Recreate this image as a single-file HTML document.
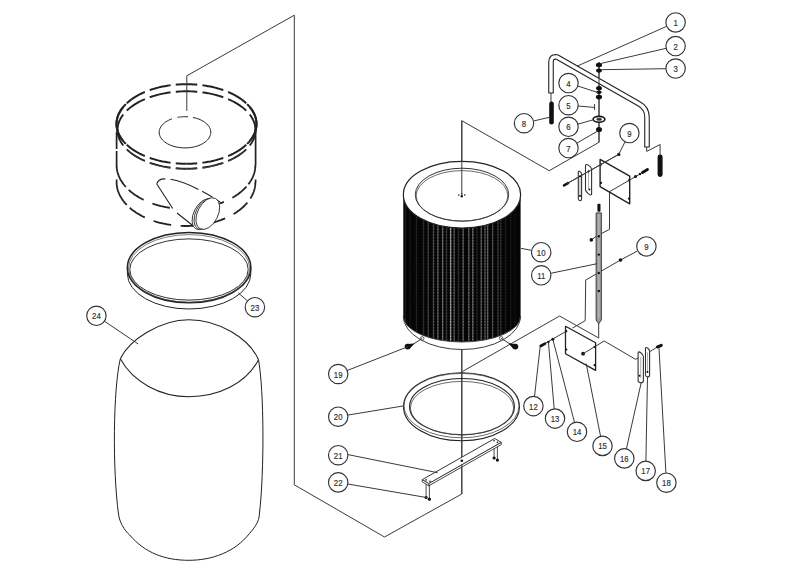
<!DOCTYPE html>
<html><head><meta charset="utf-8"><style>
html,body{margin:0;padding:0;background:#fff;overflow:hidden;}
svg{display:block;font-family:"Liberation Sans",sans-serif;}
</style></head><body>
<svg width="792" height="574" viewBox="0 0 792 574">
<polyline fill="none" stroke="#3a3a3a" stroke-width="1"  points="186.8,110.8 186.8,75.8 294.3,15.2 294.3,484.8 384.5,537 461.8,494 461.8,120.7 549.2,170.7 599,142.3 599,62"/>
<polyline fill="none" stroke="#3a3a3a" stroke-width="1"  points="462.4,371.5 559.6,316 598.7,338 598.7,322.8"/>
<polyline fill="none" stroke="#3a3a3a" stroke-width="1"  points="572.6,328 585.2,320.7 585.7,280 598,273 620.5,260 637.4,251"/>
<polyline fill="none" stroke="#3a3a3a" stroke-width="1"  points="609.5,191.8 609.5,229.4 597.6,235.4 591.3,239.9"/>
<path d="M186.50,84.20 L184.06,84.22 L181.62,84.30 L179.18,84.42 L176.76,84.59 L174.34,84.80 L171.95,85.07 L169.57,85.38 L167.21,85.74 L164.87,86.15 L162.56,86.60 L160.28,87.10 L158.03,87.64 L155.81,88.23 L153.64,88.86 L151.50,89.53 L149.41,90.25 L147.36,91.00 L145.36,91.80 L143.40,92.64 L141.50,93.51 L139.66,94.42 L137.87,95.37 L136.15,96.35 L134.48,97.37 L132.88,98.42 L131.34,99.50 L129.87,100.61 L128.47,101.74 L127.14,102.91 L125.88,104.10 L124.69,105.32 L123.58,106.55 L122.55,107.81 L121.60,109.09 L120.72,110.39 L119.93,111.70 L119.21,113.03 L118.58,114.37 L118.03,115.73 L117.56,117.09 L117.18,118.46 L116.88,119.84 L116.67,121.22 L116.54,122.61 L116.50,124.00" fill="none" stroke="#222" stroke-width="2.0" stroke-dasharray="21.5 5.2" stroke-dashoffset="10.75"/>
<path d="M186.50,84.20 L188.94,84.22 L191.38,84.30 L193.82,84.42 L196.24,84.59 L198.66,84.80 L201.05,85.07 L203.43,85.38 L205.79,85.74 L208.13,86.15 L210.44,86.60 L212.72,87.10 L214.97,87.64 L217.19,88.23 L219.36,88.86 L221.50,89.53 L223.59,90.25 L225.64,91.00 L227.64,91.80 L229.60,92.64 L231.50,93.51 L233.34,94.42 L235.13,95.37 L236.85,96.35 L238.52,97.37 L240.12,98.42 L241.66,99.50 L243.13,100.61 L244.53,101.74 L245.86,102.91 L247.12,104.10 L248.31,105.32 L249.42,106.55 L250.45,107.81 L251.40,109.09 L252.28,110.39 L253.07,111.70 L253.79,113.03 L254.42,114.37 L254.97,115.73 L255.44,117.09 L255.82,118.46 L256.12,119.84 L256.33,121.22 L256.46,122.61 L256.50,124.00" fill="none" stroke="#222" stroke-width="2.0" stroke-dasharray="21.5 5.2" stroke-dashoffset="10.75"/>
<path d="M186.50,163.80 L184.06,163.78 L181.62,163.70 L179.18,163.58 L176.76,163.41 L174.34,163.20 L171.95,162.93 L169.57,162.62 L167.21,162.26 L164.87,161.85 L162.56,161.40 L160.28,160.90 L158.03,160.36 L155.81,159.77 L153.64,159.14 L151.50,158.47 L149.41,157.75 L147.36,157.00 L145.36,156.20 L143.40,155.36 L141.50,154.49 L139.66,153.58 L137.87,152.63 L136.15,151.65 L134.48,150.63 L132.88,149.58 L131.34,148.50 L129.87,147.39 L128.47,146.26 L127.14,145.09 L125.88,143.90 L124.69,142.68 L123.58,141.45 L122.55,140.19 L121.60,138.91 L120.72,137.61 L119.93,136.30 L119.21,134.97 L118.58,133.63 L118.03,132.27 L117.56,130.91 L117.18,129.54 L116.88,128.16 L116.67,126.78 L116.54,125.39 L116.50,124.00" fill="none" stroke="#222" stroke-width="2.0" stroke-dasharray="21.5 5.2" stroke-dashoffset="10.75"/>
<path d="M186.50,163.80 L188.94,163.78 L191.38,163.70 L193.82,163.58 L196.24,163.41 L198.66,163.20 L201.05,162.93 L203.43,162.62 L205.79,162.26 L208.13,161.85 L210.44,161.40 L212.72,160.90 L214.97,160.36 L217.19,159.77 L219.36,159.14 L221.50,158.47 L223.59,157.75 L225.64,157.00 L227.64,156.20 L229.60,155.36 L231.50,154.49 L233.34,153.58 L235.13,152.63 L236.85,151.65 L238.52,150.63 L240.12,149.58 L241.66,148.50 L243.13,147.39 L244.53,146.26 L245.86,145.09 L247.12,143.90 L248.31,142.68 L249.42,141.45 L250.45,140.19 L251.40,138.91 L252.28,137.61 L253.07,136.30 L253.79,134.97 L254.42,133.63 L254.97,132.27 L255.44,130.91 L255.82,129.54 L256.12,128.16 L256.33,126.78 L256.46,125.39 L256.50,124.00" fill="none" stroke="#222" stroke-width="2.0" stroke-dasharray="21.5 5.2" stroke-dashoffset="10.75"/>
<path d="M247.12,104.10 L248.02,105.01 L248.87,105.93 L249.68,106.87 L250.45,107.81 L251.17,108.77 L251.85,109.74 L252.48,110.71 L253.07,111.70 L253.62,112.70 L254.11,113.70 L254.57,114.71 L254.97,115.73 L255.33,116.75 L255.64,117.77 L255.90,118.81 L256.12,119.84 L256.28,120.88 L256.40,121.92 L256.48,122.96 L256.50,124.00 L256.48,125.04 L256.40,126.08 L256.28,127.12 L256.12,128.16 L255.90,129.19 L255.64,130.23 L255.33,131.25 L254.97,132.27 L254.57,133.29 L254.11,134.30 L253.62,135.30 L253.07,136.30 L252.48,137.29 L251.85,138.26 L251.17,139.23 L250.45,140.19 L249.68,141.13 L248.87,142.07 L248.02,142.99 L247.12,143.90" fill="none" stroke="#222" stroke-width="2.0" />
<path d="M125.88,143.90 L124.98,142.99 L124.13,142.07 L123.32,141.13 L122.55,140.19 L121.83,139.23 L121.15,138.26 L120.52,137.29 L119.93,136.30 L119.38,135.30 L118.89,134.30 L118.43,133.29 L118.03,132.27 L117.67,131.25 L117.36,130.23 L117.10,129.19 L116.88,128.16 L116.72,127.12 L116.60,126.08 L116.52,125.04 L116.50,124.00 L116.52,122.96 L116.60,121.92 L116.72,120.88 L116.88,119.84 L117.10,118.81 L117.36,117.77 L117.67,116.75 L118.03,115.73 L118.43,114.71 L118.89,113.70 L119.38,112.70 L119.93,111.70 L120.52,110.71 L121.15,109.74 L121.83,108.77 L122.55,107.81 L123.32,106.87 L124.13,105.93 L124.98,105.01 L125.88,104.10" fill="none" stroke="#222" stroke-width="2.0" />
<path d="M186.50,91.30 L184.09,91.32 L181.69,91.39 L179.29,91.51 L176.90,91.68 L174.52,91.89 L172.15,92.15 L169.81,92.45 L167.48,92.80 L165.18,93.19 L162.90,93.63 L160.65,94.12 L158.44,94.65 L156.25,95.22 L154.11,95.83 L152.00,96.48 L149.94,97.18 L147.92,97.92 L145.94,98.69 L144.02,99.50 L142.15,100.35 L140.33,101.24 L138.57,102.16 L136.87,103.12 L135.22,104.10 L133.64,105.12 L132.13,106.17 L130.68,107.25 L129.30,108.36 L127.98,109.49 L126.74,110.65 L125.58,111.83 L124.48,113.04 L123.47,114.26 L122.52,115.50 L121.66,116.76 L120.88,118.04 L120.17,119.33 L119.55,120.64 L119.01,121.95 L118.55,123.28 L118.17,124.61 L117.88,125.95 L117.67,127.30 L117.54,128.65 L117.50,130.00" fill="none" stroke="#222" stroke-width="1.9" stroke-dasharray="21.5 5.2" stroke-dashoffset="10.75"/>
<path d="M186.50,91.30 L188.91,91.32 L191.31,91.39 L193.71,91.51 L196.10,91.68 L198.48,91.89 L200.85,92.15 L203.19,92.45 L205.52,92.80 L207.82,93.19 L210.10,93.63 L212.35,94.12 L214.56,94.65 L216.75,95.22 L218.89,95.83 L221.00,96.48 L223.06,97.18 L225.08,97.92 L227.06,98.69 L228.98,99.50 L230.85,100.35 L232.67,101.24 L234.43,102.16 L236.13,103.12 L237.78,104.10 L239.36,105.12 L240.87,106.17 L242.32,107.25 L243.70,108.36 L245.02,109.49 L246.26,110.65 L247.42,111.83 L248.52,113.04 L249.53,114.26 L250.48,115.50 L251.34,116.76 L252.12,118.04 L252.83,119.33 L253.45,120.64 L253.99,121.95 L254.45,123.28 L254.83,124.61 L255.12,125.95 L255.33,127.30 L255.46,128.65 L255.50,130.00" fill="none" stroke="#222" stroke-width="1.9" stroke-dasharray="21.5 5.2" stroke-dashoffset="10.75"/>
<path d="M186.50,168.70 L184.09,168.68 L181.69,168.61 L179.29,168.49 L176.90,168.32 L174.52,168.11 L172.15,167.85 L169.81,167.55 L167.48,167.20 L165.18,166.81 L162.90,166.37 L160.65,165.88 L158.44,165.35 L156.25,164.78 L154.11,164.17 L152.00,163.52 L149.94,162.82 L147.92,162.08 L145.94,161.31 L144.02,160.50 L142.15,159.65 L140.33,158.76 L138.57,157.84 L136.87,156.88 L135.22,155.90 L133.64,154.88 L132.13,153.83 L130.68,152.75 L129.30,151.64 L127.98,150.51 L126.74,149.35 L125.58,148.17 L124.48,146.96 L123.47,145.74 L122.52,144.50 L121.66,143.24 L120.88,141.96 L120.17,140.67 L119.55,139.36 L119.01,138.05 L118.55,136.72 L118.17,135.39 L117.88,134.05 L117.67,132.70 L117.54,131.35 L117.50,130.00" fill="none" stroke="#222" stroke-width="1.9" stroke-dasharray="21.5 5.2" stroke-dashoffset="10.75"/>
<path d="M186.50,168.70 L188.91,168.68 L191.31,168.61 L193.71,168.49 L196.10,168.32 L198.48,168.11 L200.85,167.85 L203.19,167.55 L205.52,167.20 L207.82,166.81 L210.10,166.37 L212.35,165.88 L214.56,165.35 L216.75,164.78 L218.89,164.17 L221.00,163.52 L223.06,162.82 L225.08,162.08 L227.06,161.31 L228.98,160.50 L230.85,159.65 L232.67,158.76 L234.43,157.84 L236.13,156.88 L237.78,155.90 L239.36,154.88 L240.87,153.83 L242.32,152.75 L243.70,151.64 L245.02,150.51 L246.26,149.35 L247.42,148.17 L248.52,146.96 L249.53,145.74 L250.48,144.50 L251.34,143.24 L252.12,141.96 L252.83,140.67 L253.45,139.36 L253.99,138.05 L254.45,136.72 L254.83,135.39 L255.12,134.05 L255.33,132.70 L255.46,131.35 L255.50,130.00" fill="none" stroke="#222" stroke-width="1.9" stroke-dasharray="21.5 5.2" stroke-dashoffset="10.75"/>
<path d="M186.50,169.10 L188.89,169.08 L191.28,169.01 L193.66,168.89 L196.03,168.73 L198.39,168.53 L200.74,168.27 L203.07,167.98 L205.38,167.64 L207.67,167.25 L209.93,166.82 L212.16,166.35 L214.36,165.83 L216.53,165.27 L218.66,164.68 L220.75,164.04 L222.80,163.36 L224.80,162.64 L226.76,161.88 L228.67,161.09 L230.53,160.26 L232.34,159.39 L234.08,158.49 L235.77,157.56 L237.41,156.59 L238.97,155.60 L240.48,154.57 L241.92,153.52 L243.29,152.44 L244.59,151.33 L245.82,150.20" fill="none" stroke="#444" stroke-width="0.8" stroke-dasharray="21.5 5.2" stroke-dashoffset="10.75"/>
<path d="M186.50,169.10 L184.11,169.08 L181.72,169.01 L179.34,168.89 L176.97,168.73 L174.61,168.53 L172.26,168.27 L169.93,167.98 L167.62,167.64 L165.33,167.25 L163.07,166.82 L160.84,166.35 L158.64,165.83 L156.47,165.27 L154.34,164.68 L152.25,164.04 L150.20,163.36 L148.20,162.64 L146.24,161.88 L144.33,161.09 L142.47,160.26 L140.66,159.39 L138.92,158.49 L137.23,157.56 L135.59,156.59 L134.03,155.60 L132.52,154.57 L131.08,153.52 L129.71,152.44 L128.41,151.33 L127.18,150.20" fill="none" stroke="#444" stroke-width="0.8" stroke-dasharray="21.5 5.2" stroke-dashoffset="10.75"/>
<path d="M116.6,132 L116.6,149 M116.6,151 L116.6,165" fill="none" stroke="#222" stroke-width="1.7" />
<path d="M116.6,179.5 L116.6,182" fill="none" stroke="#222" stroke-width="1.7" />
<path d="M255.6,126 L255.6,165" fill="none" stroke="#222" stroke-width="1.7" />
<path d="M255.6,179.5 L255.6,182" fill="none" stroke="#222" stroke-width="1.7" />
<path d="M116.60,165.00 L116.62,166.15 L116.70,167.30 L116.81,168.45 L116.98,169.60 L117.19,170.74 L117.45,171.88 L117.76,173.02 L118.12,174.15 L118.52,175.27 L118.96,176.39 L119.46,177.50 L120.00,178.60 L120.58,179.69 L121.21,180.77 L121.88,181.84 L122.60,182.90 L123.36,183.94 L124.16,184.98 L125.01,185.99 L125.90,187.00" fill="none" stroke="#222" stroke-width="1.8" />
<path d="M125.90,187.00 L126.86,188.02 L127.86,189.03 L128.91,190.02 L130.00,190.99 L131.13,191.94 L132.30,192.87 L133.50,193.78 L134.75,194.67 L136.04,195.54 L137.36,196.38 L138.71,197.21 L140.10,198.00 L141.53,198.78 L142.99,199.53 L144.48,200.26 L146.00,200.95 L147.54,201.63 L149.12,202.27 L150.72,202.89 L152.35,203.48 L154.01,204.05 L155.69,204.58 L157.39,205.09 L159.11,205.56 L160.85,206.01 L162.61,206.42 L164.38,206.81 L166.17,207.17 L167.98,207.49 L169.80,207.78 L171.63,208.05 L173.47,208.28 L175.32,208.48 L177.18,208.64 L179.05,208.78 L180.92,208.88 L182.79,208.95 L184.67,208.99 L186.55,209.00 L188.42,208.97 L190.30,208.92 L192.17,208.83 L194.04,208.70 L195.90,208.55 L197.75,208.36 L199.60,208.15 L201.43,207.90 L203.26,207.62 L205.07,207.31 L206.87,206.96 L208.65,206.59 L210.42,206.19 L212.17,205.75 L213.90,205.29 L215.60,204.80 L217.29,204.27 L218.96,203.72 L220.60,203.14 L222.21,202.54 L223.80,201.90 L225.36,201.24 L226.89,200.55 L228.39,199.84 L229.86,199.10 L231.30,198.33 L232.71,197.54 L234.08,196.73 L235.41,195.89 L236.71,195.04 L237.98,194.16 L239.20,193.25 L240.39,192.33 L241.53,191.39 L242.64,190.43 L243.70,189.45 L244.73,188.45 L245.70,187.43 L246.64,186.40 L247.53,185.35 L248.38,184.29" fill="none" stroke="#222" stroke-width="1.8" stroke-dasharray="0 4 18 5.5"/>
<path d="M248.38,184.29 L249.05,183.39 L249.69,182.47 L250.30,181.55 L250.88,180.62 L251.42,179.69 L251.93,178.74 L252.40,177.79 L252.84,176.83 L253.25,175.87 L253.62,174.90 L253.96,173.92 L254.26,172.94 L254.53,171.96 L254.76,170.97 L254.95,169.98 L255.11,168.99 L255.24,167.99 L255.33,167.00 L255.38,166.00 L255.40,165.00" fill="none" stroke="#222" stroke-width="1.8" />
<path d="M116.60,182.00 L116.63,183.21 L116.70,184.42 L116.84,185.62 L117.02,186.83 L117.25,188.03 L117.54,189.22 L117.88,190.41 L118.27,191.60 L118.71,192.77 L119.21,193.94 L119.75,195.10 L120.34,196.25 L120.98,197.39 L121.68,198.52 L122.42,199.63 L123.21,200.73 L124.04,201.82 L124.92,202.89 L125.85,203.95 L126.83,204.99" fill="none" stroke="#222" stroke-width="1.8" />
<path d="M126.83,204.99 L127.85,206.02 L128.92,207.02 L130.03,208.01 L131.18,208.98 L132.38,209.93 L133.61,210.86 L134.89,211.76 L136.20,212.65 L137.56,213.51 L138.95,214.34 L140.37,215.15 L141.83,215.94 L143.33,216.70 L144.85,217.43 L146.41,218.14 L148.00,218.82 L149.62,219.47 L151.26,220.09 L152.93,220.68 L154.63,221.25 L156.35,221.78 L158.09,222.29 L159.85,222.76 L161.64,223.20 L163.44,223.61 L165.26,223.99 L167.10,224.34 L168.95,224.65 L170.81,224.93 L172.68,225.18 L174.57,225.40 L176.46,225.58 L178.36,225.73 L180.27,225.85 L182.18,225.93 L184.09,225.98 L186.01,226.00 L187.92,225.98 L189.84,225.93 L191.75,225.85 L193.65,225.73 L195.55,225.58 L197.45,225.40 L199.33,225.18 L201.21,224.93 L203.07,224.65 L204.92,224.33 L206.75,223.99 L208.57,223.61 L210.38,223.20 L212.16,222.75 L213.92,222.28 L215.67,221.78 L217.39,221.24 L219.08,220.68 L220.75,220.09 L222.40,219.46 L224.01,218.81 L225.60,218.13 L227.16,217.43 L228.69,216.69 L230.18,215.93 L231.64,215.15 L233.06,214.34 L234.45,213.50 L235.81,212.64 L237.12,211.76 L238.40,210.85 L239.63,209.92 L240.83,208.98 L241.98,208.01 L243.09,207.02 L244.16,206.01 L245.18,204.98 L246.16,203.94 L247.09,202.88 L247.98,201.80 L248.81,200.71 L249.60,199.60 L250.35,198.48" fill="none" stroke="#222" stroke-width="1.8" stroke-dasharray="0 4 18 5.5"/>
<path d="M250.35,198.48 L250.83,197.70 L251.30,196.90 L251.74,196.11 L252.15,195.30 L252.54,194.50 L252.91,193.68 L253.25,192.87 L253.57,192.05 L253.86,191.22 L254.12,190.40 L254.37,189.56 L254.58,188.73 L254.77,187.90 L254.94,187.06 L255.08,186.22 L255.20,185.38 L255.28,184.53 L255.35,183.69 L255.39,182.84 L255.40,182.00" fill="none" stroke="#222" stroke-width="1.8" />
<path d="M192.97,117.46 L194.85,117.88 L196.68,118.39 L198.43,118.98 L200.10,119.65 L201.67,120.40 L203.15,121.21 L204.52,122.10 L205.77,123.05 L206.90,124.05 L207.89,125.10 L208.75,126.20 L209.46,127.33 L210.02,128.50 L210.43,129.68 L210.69,130.88 L210.80,132.09 L210.75,133.31 L210.54,134.51 L210.18,135.70 L209.67,136.88 L209.00,138.02 L208.20,139.13 L207.25,140.20 L206.17,141.22 L204.96,142.19 L203.63,143.09 L202.19,143.93 L200.64,144.71 L199.00,145.40 L197.28,146.02 L195.48,146.56 L193.62,147.00 L191.70,147.36 L189.75,147.63 L187.76,147.81 L185.76,147.89 L183.76,147.88 L181.76,147.78 L179.79,147.58 L177.84,147.29 L175.94,146.91 L174.09,146.44 L172.31,145.88 L170.60,145.24 L168.98,144.53 L167.46,143.74 L166.04,142.88 L164.74,141.96 L163.56,140.98 L162.51,139.95 L161.60,138.87 L160.83,137.75 L160.20,136.60 L159.72,135.42 L159.40,134.23 L159.23,133.02 L159.21,131.81 L159.35,130.60 L159.65,129.40 L160.10,128.22 L160.70,127.06 L161.44,125.94 L162.33,124.85 L163.36,123.81 L164.51,122.82 L165.79,121.88 L167.19,121.01 L168.69,120.21 L170.29,119.48 L171.98,118.83" fill="none" stroke="#222" stroke-width="1" />
<path d="M177.46,117.38 L178.48,117.21 L179.52,117.06 L180.57,116.93 L181.62,116.83 L182.68,116.76 L183.75,116.72 L184.82,116.70 L185.88,116.71 L186.95,116.74 L188.01,116.81" fill="none" stroke="#222" stroke-width="1" />
<path d="M156.8,184 Q158,178 167,179 C180,179.5 200,189 220,202 L200,230 L193,225.5 Z" fill="#fff"/>
<path d="M156.8,184 Q158,178 167,179 C180,179.5 200,189 220,202" fill="none" stroke="#222" stroke-width="1.1" stroke-dasharray="11 5 30 4 12 4 30"/>
<path d="M156.8,184 L172.7,208.5 M177,213 L194,226.5" fill="none" stroke="#222" stroke-width="1.1" />
<ellipse cx="203.6" cy="214.2" rx="16.6" ry="9.8" transform="rotate(117 203.6 214.2)" fill="#fff" stroke="#222" stroke-width="0.8"/>
<ellipse cx="205.7" cy="213.9" rx="16.8" ry="10" transform="rotate(117 205.7 213.9)" fill="#fff" stroke="#222" stroke-width="0.8"/>
<ellipse cx="207.8" cy="213.6" rx="17" ry="10.2" transform="rotate(117 207.8 213.6)" fill="#fff" stroke="#222" stroke-width="0.8"/>
<path d="M127.4,267.6 L127.4,273.8 A61.7,35.2 0 0 0 250.8,273.8 L250.8,267.6" fill="none" stroke="#222" stroke-width="1" />
<ellipse cx="189.1" cy="267.6" rx="61.7" ry="35.2" fill="#fff" stroke="#222" stroke-width="1.5"/>
<ellipse cx="189.1" cy="268.4" rx="60.6" ry="33.8" fill="none" stroke="#444" stroke-width="0.7"/>
<ellipse cx="189" cy="269.5" rx="59.2" ry="30.6" fill="#fff" stroke="#333" stroke-width="1"/>
<path d="M120.3,358.8 C129,340 160,319.7 188.8,319.7 C218,319.7 249,338 258.5,359.7" fill="none" stroke="#222" stroke-width="1.05" />
<path d="M120.3,358.8 C133,382 160,396.7 188.8,396.7 C218,396.7 246,384 258.5,359.7" fill="none" stroke="#222" stroke-width="1.05" />
<path d="M120.3,358.8 C113,390 112.5,470 118.5,514 C119.5,522 124,530 129.7,535 C145,553 165,560.3 188.8,560.3 C212,560.3 235,552 249.4,533.6 C255,527 259,522 259.4,514 C264.5,470 264,390 258.5,359.7" fill="none" stroke="#222" stroke-width="1" />
<defs><clipPath id="fb"><path d="M403.3,195 L403.3,316 A58.650000000000006,26 0 0 0 520.6,316 L520.6,195 Z"/></clipPath></defs>
<path d="M403.3,195 L403.3,316 A58.650000000000006,26 0 0 0 520.6,316 L520.6,195 Z" fill="#050505"/>
<g clip-path="url(#fb)">
<line x1="405.5" y1="150" x2="405.5" y2="345" stroke="rgb(21,21,21)" stroke-width="1.3"/>
<line x1="405.5" y1="150" x2="405.5" y2="345" stroke="rgb(31,31,31)" stroke-width="1.3" stroke-dasharray="1.6 1.3"/>
<line x1="410" y1="150" x2="410" y2="345" stroke="rgb(15,15,15)" stroke-width="1.3"/>
<line x1="410" y1="150" x2="410" y2="345" stroke="rgb(22,22,22)" stroke-width="1.3" stroke-dasharray="1.6 1.3"/>
<line x1="416.5" y1="150" x2="416.5" y2="345" stroke="rgb(25,25,25)" stroke-width="1.3"/>
<line x1="416.5" y1="150" x2="416.5" y2="345" stroke="rgb(37,37,37)" stroke-width="1.3" stroke-dasharray="1.6 1.3"/>
<line x1="423.5" y1="150" x2="423.5" y2="345" stroke="rgb(34,34,34)" stroke-width="1.3"/>
<line x1="423.5" y1="150" x2="423.5" y2="345" stroke="rgb(50,50,50)" stroke-width="1.3" stroke-dasharray="1.6 1.3"/>
<line x1="428.3" y1="150" x2="428.3" y2="345" stroke="rgb(46,46,46)" stroke-width="1.3"/>
<line x1="428.3" y1="150" x2="428.3" y2="345" stroke="rgb(68,68,68)" stroke-width="1.3" stroke-dasharray="1.6 1.3"/>
<line x1="433.5" y1="150" x2="433.5" y2="345" stroke="rgb(55,55,55)" stroke-width="1.3"/>
<line x1="433.5" y1="150" x2="433.5" y2="345" stroke="rgb(81,81,81)" stroke-width="1.3" stroke-dasharray="1.6 1.3"/>
<line x1="437.9" y1="150" x2="437.9" y2="345" stroke="rgb(68,68,68)" stroke-width="1.3"/>
<line x1="437.9" y1="150" x2="437.9" y2="345" stroke="rgb(100,100,100)" stroke-width="1.3" stroke-dasharray="1.6 1.3"/>
<line x1="442.6" y1="150" x2="442.6" y2="345" stroke="rgb(80,80,80)" stroke-width="1.3"/>
<line x1="442.6" y1="150" x2="442.6" y2="345" stroke="rgb(118,118,118)" stroke-width="1.3" stroke-dasharray="1.6 1.3"/>
<line x1="446.5" y1="150" x2="446.5" y2="345" stroke="rgb(42,42,42)" stroke-width="1.3"/>
<line x1="446.5" y1="150" x2="446.5" y2="345" stroke="rgb(62,62,62)" stroke-width="1.3" stroke-dasharray="1.6 1.3"/>
<line x1="450.6" y1="150" x2="450.6" y2="345" stroke="rgb(114,114,114)" stroke-width="1.3"/>
<line x1="450.6" y1="150" x2="450.6" y2="345" stroke="rgb(168,168,168)" stroke-width="1.3" stroke-dasharray="1.6 1.3"/>
<line x1="454.2" y1="150" x2="454.2" y2="345" stroke="rgb(63,63,63)" stroke-width="1.3"/>
<line x1="454.2" y1="150" x2="454.2" y2="345" stroke="rgb(93,93,93)" stroke-width="1.3" stroke-dasharray="1.6 1.3"/>
<line x1="458.5" y1="150" x2="458.5" y2="345" stroke="rgb(34,34,34)" stroke-width="1.3"/>
<line x1="458.5" y1="150" x2="458.5" y2="345" stroke="rgb(50,50,50)" stroke-width="1.3" stroke-dasharray="1.6 1.3"/>
<line x1="463.2" y1="150" x2="463.2" y2="345" stroke="rgb(68,68,68)" stroke-width="1.3"/>
<line x1="463.2" y1="150" x2="463.2" y2="345" stroke="rgb(100,100,100)" stroke-width="1.3" stroke-dasharray="1.6 1.3"/>
<line x1="468.8" y1="150" x2="468.8" y2="345" stroke="rgb(68,68,68)" stroke-width="1.3"/>
<line x1="468.8" y1="150" x2="468.8" y2="345" stroke="rgb(100,100,100)" stroke-width="1.3" stroke-dasharray="1.6 1.3"/>
<line x1="472.8" y1="150" x2="472.8" y2="345" stroke="rgb(76,76,76)" stroke-width="1.3"/>
<line x1="472.8" y1="150" x2="472.8" y2="345" stroke="rgb(112,112,112)" stroke-width="1.3" stroke-dasharray="1.6 1.3"/>
<line x1="477" y1="150" x2="477" y2="345" stroke="rgb(25,25,25)" stroke-width="1.3"/>
<line x1="477" y1="150" x2="477" y2="345" stroke="rgb(37,37,37)" stroke-width="1.3" stroke-dasharray="1.6 1.3"/>
<line x1="481.3" y1="150" x2="481.3" y2="345" stroke="rgb(68,68,68)" stroke-width="1.3"/>
<line x1="481.3" y1="150" x2="481.3" y2="345" stroke="rgb(100,100,100)" stroke-width="1.3" stroke-dasharray="1.6 1.3"/>
<line x1="485" y1="150" x2="485" y2="345" stroke="rgb(59,59,59)" stroke-width="1.3"/>
<line x1="485" y1="150" x2="485" y2="345" stroke="rgb(87,87,87)" stroke-width="1.3" stroke-dasharray="1.6 1.3"/>
<line x1="487.6" y1="150" x2="487.6" y2="345" stroke="rgb(72,72,72)" stroke-width="1.3"/>
<line x1="487.6" y1="150" x2="487.6" y2="345" stroke="rgb(106,106,106)" stroke-width="1.3" stroke-dasharray="1.6 1.3"/>
<line x1="492.6" y1="150" x2="492.6" y2="345" stroke="rgb(59,59,59)" stroke-width="1.3"/>
<line x1="492.6" y1="150" x2="492.6" y2="345" stroke="rgb(87,87,87)" stroke-width="1.3" stroke-dasharray="1.6 1.3"/>
<line x1="498" y1="150" x2="498" y2="345" stroke="rgb(42,42,42)" stroke-width="1.3"/>
<line x1="498" y1="150" x2="498" y2="345" stroke="rgb(62,62,62)" stroke-width="1.3" stroke-dasharray="1.6 1.3"/>
<line x1="500.8" y1="150" x2="500.8" y2="345" stroke="rgb(34,34,34)" stroke-width="1.3"/>
<line x1="500.8" y1="150" x2="500.8" y2="345" stroke="rgb(50,50,50)" stroke-width="1.3" stroke-dasharray="1.6 1.3"/>
<line x1="505.5" y1="150" x2="505.5" y2="345" stroke="rgb(21,21,21)" stroke-width="1.3"/>
<line x1="505.5" y1="150" x2="505.5" y2="345" stroke="rgb(31,31,31)" stroke-width="1.3" stroke-dasharray="1.6 1.3"/>
<line x1="510.8" y1="150" x2="510.8" y2="345" stroke="rgb(17,17,17)" stroke-width="1.3"/>
<line x1="510.8" y1="150" x2="510.8" y2="345" stroke="rgb(25,25,25)" stroke-width="1.3" stroke-dasharray="1.6 1.3"/>
<line x1="515" y1="150" x2="515" y2="345" stroke="rgb(11,11,11)" stroke-width="1.3"/>
<line x1="515" y1="150" x2="515" y2="345" stroke="rgb(17,17,17)" stroke-width="1.3" stroke-dasharray="1.6 1.3"/>
</g>
<path d="M403.3,316 A58.650000000000006,33.5 0 0 0 520.6,316 A58.650000000000006,26 0 0 1 403.3,316 Z" fill="#fff" stroke="#3a3a3a" stroke-width="1"/>
<ellipse cx="462" cy="194.7" rx="58.650000000000006" ry="33.4" fill="#fff" stroke="#222" stroke-width="1.2"/>
<ellipse cx="462" cy="194.7" rx="46.7" ry="26.5" fill="#fff" stroke="#333" stroke-width="1"/>
<ellipse cx="462" cy="195.8" rx="45.8" ry="25.2" fill="none" stroke="#444" stroke-width="0.8"/>
<circle cx="458.8" cy="195.0" r="0.8" fill="#111"/>
<circle cx="464.8" cy="195.0" r="0.8" fill="#111"/>
<circle cx="461.8" cy="196.3" r="1.2" fill="#111"/>
<circle cx="461.8" cy="193.7" r="0.7" fill="#111"/>
<line x1="461.8" y1="120.7" x2="461.8" y2="195.5" stroke="#3a3a3a" stroke-width="1" />
<circle cx="422.2" cy="338.4" r="1.8" fill="#fff" stroke="#333" stroke-width="0.8"/>
<circle cx="501.2" cy="338.4" r="1.8" fill="#fff" stroke="#333" stroke-width="0.8"/>
<line x1="422.2" y1="338.4" x2="408.9" y2="347" stroke="#3a3a3a" stroke-width="1" />
<line x1="501.2" y1="338.4" x2="514.9" y2="347" stroke="#3a3a3a" stroke-width="1" />
<circle cx="407.6" cy="346.6" r="2.9" fill="#111"/>
<polygon points="406.5,344 414.5,343.6 409.5,349" fill="#111"/>
<circle cx="515.4" cy="346.6" r="2.9" fill="#111"/>
<polygon points="516.5,344 508.5,343.6 513.5,349" fill="#111"/>
<line x1="461.8" y1="349.7" x2="461.8" y2="461" stroke="#3a3a3a" stroke-width="1" />
<ellipse cx="461.5" cy="406.8" rx="58" ry="34" fill="none" stroke="#222" stroke-width="1.1"/>
<ellipse cx="461.5" cy="405.6" rx="57.6" ry="32.2" fill="none" stroke="#444" stroke-width="0.8"/>
<ellipse cx="462" cy="406.7" rx="52.4" ry="28.2" fill="none" stroke="#222" stroke-width="1.1"/>
<ellipse cx="462" cy="408" rx="51.6" ry="26.6" fill="none" stroke="#444" stroke-width="0.8"/>
<line x1="426.1" y1="481" x2="426.1" y2="497.5" stroke="#3a3a3a" stroke-width="0.9" />
<line x1="429.4" y1="484" x2="429.4" y2="499.2" stroke="#3a3a3a" stroke-width="0.9" />
<line x1="494.1" y1="441" x2="494.1" y2="458" stroke="#3a3a3a" stroke-width="0.9" />
<line x1="497.4" y1="443" x2="497.4" y2="460.1" stroke="#3a3a3a" stroke-width="0.9" />
<polygon fill="#fff" stroke="#333" stroke-width="1" stroke-linejoin="round"  points="422.2,479.7 494.7,438.5 501.3,442.4 428.8,483.6"/>
<polygon fill="#fff" stroke="#333" stroke-width="0.9" stroke-linejoin="round"  points="428.8,483.6 501.3,442.4 501.3,444.6 428.8,485.8"/>
<polygon fill="#fff" stroke="#333" stroke-width="0.9" stroke-linejoin="round"  points="422.2,479.7 428.8,483.6 428.8,485.8 422.2,481.9"/>
<circle cx="426.1" cy="479.9" r="0.8" fill="#111"/>
<circle cx="430" cy="481.2" r="0.8" fill="#111"/>
<circle cx="494.1" cy="440.7" r="0.8" fill="#111"/>
<circle cx="497.4" cy="442.4" r="0.8" fill="#111"/>
<circle cx="461.8" cy="460.7" r="1.3" fill="#111"/>
<line x1="461.8" y1="464.5" x2="461.8" y2="494" stroke="#3a3a3a" stroke-width="1" />
<circle cx="426.1" cy="497.5" r="1.6" fill="#111"/>
<circle cx="429.4" cy="499.2" r="1.6" fill="#111"/>
<circle cx="494.1" cy="458" r="1.6" fill="#111"/>
<circle cx="497.4" cy="460.1" r="1.6" fill="#111"/>
<path d="M551,93 L551,62 Q551,56 557,57 L638.5,103.5 Q647,108 647,117 L647,147" fill="none" stroke="#222" stroke-width="5.6" stroke-linejoin="round"/>
<path d="M551,93 L551,62 Q551,56 557,57 L638.5,103.5 Q647,108 647,117 L647,147" fill="none" stroke="#fff" stroke-width="3.4" stroke-linejoin="round"/>
<line x1="551" y1="93" x2="551" y2="102" stroke="#3a3a3a" stroke-width="1" />
<line x1="548.4" y1="93" x2="553.6" y2="93" stroke="#222" stroke-width="1" />
<line x1="644.3" y1="147" x2="649.7" y2="147" stroke="#222" stroke-width="1" />
<line x1="599" y1="62" x2="599" y2="142.3" stroke="#3a3a3a" stroke-width="1" />
<rect x="549.2" y="101.5" width="4.6" height="23" rx="2.3" fill="#111"/>
<polyline fill="none" stroke="#3a3a3a" stroke-width="1"  points="646.7,147 646.7,151.4 660.1,144.5 660.1,155"/>
<rect x="657.6" y="154.5" width="5" height="22.5" rx="2.4" fill="#111"/>
<ellipse cx="599" cy="65" rx="3.1" ry="2.2" fill="#111"/>
<ellipse cx="599" cy="70.6" rx="2.9" ry="2.1" fill="#111"/>
<ellipse cx="599" cy="88.2" rx="2.9" ry="2.1" fill="#111"/>
<ellipse cx="599" cy="92.2" rx="2.7" ry="1.8" fill="#111"/>
<ellipse cx="599" cy="97.1" rx="3.1" ry="2.3" fill="#111"/>
<line x1="594.6" y1="104" x2="594.6" y2="110" stroke="#3a3a3a" stroke-width="1" />
<ellipse cx="599" cy="119.3" rx="5.9" ry="2.9" fill="#fff" stroke="#111" stroke-width="1.6"/>
<ellipse cx="599.1" cy="119.4" rx="2.8" ry="1.4" fill="#333"/>
<ellipse cx="599" cy="129.6" rx="3" ry="2.7" fill="#111"/>
<polygon fill="none" stroke="#222" stroke-width="1.4" stroke-linejoin="round"  points="600.1,159.4 629.7,176.1 629.7,203.8 600.1,186.6"/>
<circle cx="601" cy="164.6" r="1.1" fill="#111"/>
<circle cx="601" cy="182.9" r="1.1" fill="#111"/>
<circle cx="628.9" cy="180.3" r="1.1" fill="#111"/>
<circle cx="628.9" cy="198.6" r="1.1" fill="#111"/>
<line x1="563.7" y1="185.5" x2="618.7" y2="154.4" stroke="#3a3a3a" stroke-width="1" />
<circle cx="618.7" cy="154.4" r="1.7" fill="#111"/>
<line x1="609.3" y1="191.8" x2="629.2" y2="180.3" stroke="#3a3a3a" stroke-width="1" />
<line x1="629.2" y1="180.3" x2="641.7" y2="173" stroke="#3a3a3a" stroke-width="1" />
<circle cx="635.5" cy="176.6" r="1.5" fill="#111"/>
<circle cx="640" cy="174" r="1.2" fill="#111"/>
<line x1="642.5" y1="172.5" x2="647.5" y2="169.5" stroke="#111" stroke-width="2.8" stroke-linecap="round"/>
<line x1="564" y1="185.3" x2="568" y2="183.2" stroke="#111" stroke-width="2.6" stroke-linecap="round"/>
<path d="M578.3,198.8 L578.3,172.6 Q578.3,170.6 579.95,171.45 Q581.6,172.4 581.6,174.4 L581.6,198.8 Q581.6,200.8 579.95,200.8 Q578.3,200.3 578.3,198.8 Z" fill="#fff" stroke="#333" stroke-width="1.1" />
<path d="M579.95,175.75 L579.95,196.3" fill="none" stroke="#888" stroke-width="0.7" />
<circle cx="580" cy="196" r="1" fill="#111"/>
<path d="M585.5,189.7 L585.5,165.6 Q585.5,163.6 588.55,165.34999999999997 Q591.6,167.2 591.6,169.2 L591.6,194.0 Q591.6,196.0 588.55,193.85 Q585.5,191.2 585.5,189.7 Z" fill="#fff" stroke="#333" stroke-width="1.1" />
<path d="M588.55,169.64999999999998 L588.55,189.35" fill="none" stroke="#888" stroke-width="0.7" />
<circle cx="589.4" cy="189.4" r="1" fill="#111"/>
<line x1="566" y1="184.2" x2="618.7" y2="154.4" stroke="#3a3a3a" stroke-width="1" />
<circle cx="580" cy="176.3" r="1" fill="#111"/>
<circle cx="588.5" cy="171.5" r="1" fill="#111"/>
<path d="M596.1,212.9 L601.4,212.9 L601.4,320 L598.7,323.8 L596.1,320 Z" fill="#9a9a9a" stroke="#333" stroke-width="0.9"/>
<line x1="598.9" y1="214" x2="598.9" y2="318" stroke="#c8c8c8" stroke-width="0.8" />
<rect x="597.4" y="203.7" width="3.1" height="8" rx="1" fill="#111"/>
<circle cx="598.8" cy="236.2" r="1.2" fill="#111"/>
<circle cx="598.8" cy="254.6" r="1.2" fill="#111"/>
<circle cx="598.8" cy="273" r="1.2" fill="#111"/>
<circle cx="598.8" cy="291" r="1.2" fill="#111"/>
<circle cx="591.3" cy="239.9" r="1.8" fill="#111"/>
<circle cx="620.5" cy="260" r="1.8" fill="#111"/>
<polygon fill="none" stroke="#222" stroke-width="1.3" stroke-linejoin="round"  points="565.5,326.3 595.6,342.7 595.6,370.4 565.5,353.7"/>
<circle cx="566.3" cy="331.2" r="1.1" fill="#111"/>
<circle cx="566.3" cy="349.5" r="1.1" fill="#111"/>
<circle cx="594.6" cy="346.9" r="1.1" fill="#111"/>
<circle cx="594.6" cy="365.2" r="1.1" fill="#111"/>
<line x1="540.2" y1="346.3" x2="566.3" y2="331.2" stroke="#3a3a3a" stroke-width="1" />
<line x1="540.7" y1="346" x2="545" y2="343.6" stroke="#111" stroke-width="2.6" stroke-linecap="round"/>
<circle cx="548.4" cy="342" r="1.3" fill="#111"/>
<circle cx="552.8" cy="339.2" r="1.5" fill="#111"/>
<circle cx="583.1" cy="353.7" r="1.9" fill="#111"/>
<polyline fill="none" stroke="#3a3a3a" stroke-width="1"  points="583.1,353.7 604.2,341 635.5,359.3 639.2,357.7"/>
<path d="M638.1,380.7 L638.1,352.9 Q638.1,350.9 640.75,352.7 Q643.4,354.6 643.4,356.6 L643.4,380.7 Q643.4,382.7 640.75,382.7 Q638.1,382.2 638.1,380.7 Z" fill="#fff" stroke="#333" stroke-width="1.1" />
<path d="M640.75,357.0 L640.75,378.2" fill="none" stroke="#888" stroke-width="0.7" />
<circle cx="639.5" cy="375.8" r="1" fill="#111"/>
<path d="M645.5,375.0 L645.5,348.7 Q645.5,346.7 647.55,348.05 Q649.6,349.5 649.6,351.5 L649.6,375.0 Q649.6,377.0 647.55,377.0 Q645.5,376.5 645.5,375.0 Z" fill="#fff" stroke="#333" stroke-width="1.1" />
<path d="M647.55,352.35 L647.55,372.5" fill="none" stroke="#888" stroke-width="0.7" />
<circle cx="647.5" cy="372" r="1" fill="#111"/>
<line x1="649.1" y1="352" x2="657" y2="347.2" stroke="#3a3a3a" stroke-width="1" />
<line x1="657.5" y1="347" x2="661.3" y2="345.4" stroke="#111" stroke-width="3" stroke-linecap="round"/>
<circle cx="675.6" cy="22.4" r="9.7" fill="#fff" stroke="#333" stroke-width="1.15"/>
<text x="0" y="26.0" transform="translate(675.6,0) scale(0.82,1)" text-anchor="middle" font-size="9.5" fill="#333" stroke="#333" stroke-width="0.2">1</text>
<circle cx="675.6" cy="46.1" r="9.7" fill="#fff" stroke="#333" stroke-width="1.15"/>
<text x="0" y="49.7" transform="translate(675.6,0) scale(0.82,1)" text-anchor="middle" font-size="9.5" fill="#333" stroke="#333" stroke-width="0.2">2</text>
<circle cx="675.6" cy="68.5" r="9.7" fill="#fff" stroke="#333" stroke-width="1.15"/>
<text x="0" y="72.1" transform="translate(675.6,0) scale(0.82,1)" text-anchor="middle" font-size="9.5" fill="#333" stroke="#333" stroke-width="0.2">3</text>
<circle cx="568.5" cy="83" r="9.7" fill="#fff" stroke="#333" stroke-width="1.15"/>
<text x="0" y="86.6" transform="translate(568.5,0) scale(0.82,1)" text-anchor="middle" font-size="9.5" fill="#333" stroke="#333" stroke-width="0.2">4</text>
<circle cx="568.5" cy="105.2" r="9.7" fill="#fff" stroke="#333" stroke-width="1.15"/>
<text x="0" y="108.8" transform="translate(568.5,0) scale(0.82,1)" text-anchor="middle" font-size="9.5" fill="#333" stroke="#333" stroke-width="0.2">5</text>
<circle cx="568.5" cy="126.8" r="9.7" fill="#fff" stroke="#333" stroke-width="1.15"/>
<text x="0" y="130.4" transform="translate(568.5,0) scale(0.82,1)" text-anchor="middle" font-size="9.5" fill="#333" stroke="#333" stroke-width="0.2">6</text>
<circle cx="568.5" cy="148" r="9.7" fill="#fff" stroke="#333" stroke-width="1.15"/>
<text x="0" y="151.6" transform="translate(568.5,0) scale(0.82,1)" text-anchor="middle" font-size="9.5" fill="#333" stroke="#333" stroke-width="0.2">7</text>
<circle cx="524" cy="123.2" r="9.7" fill="#fff" stroke="#333" stroke-width="1.15"/>
<text x="0" y="126.8" transform="translate(524,0) scale(0.82,1)" text-anchor="middle" font-size="9.5" fill="#333" stroke="#333" stroke-width="0.2">8</text>
<circle cx="629.4" cy="133" r="9.7" fill="#fff" stroke="#333" stroke-width="1.15"/>
<text x="0" y="136.6" transform="translate(629.4,0) scale(0.82,1)" text-anchor="middle" font-size="9.5" fill="#333" stroke="#333" stroke-width="0.2">9</text>
<circle cx="646.4" cy="246.4" r="9.7" fill="#fff" stroke="#333" stroke-width="1.15"/>
<text x="0" y="250.0" transform="translate(646.4,0) scale(0.82,1)" text-anchor="middle" font-size="9.5" fill="#333" stroke="#333" stroke-width="0.2">9</text>
<circle cx="541.2" cy="252.2" r="9.7" fill="#fff" stroke="#333" stroke-width="1.15"/>
<text x="0" y="255.79999999999998" transform="translate(541.2,0) scale(0.82,1)" text-anchor="middle" font-size="9.5" fill="#333" stroke="#333" stroke-width="0.2">10</text>
<circle cx="541.2" cy="275.3" r="9.7" fill="#fff" stroke="#333" stroke-width="1.15"/>
<text x="0" y="278.90000000000003" transform="translate(541.2,0) scale(0.82,1)" text-anchor="middle" font-size="9.5" fill="#333" stroke="#333" stroke-width="0.2">11</text>
<circle cx="533.4" cy="406.1" r="9.7" fill="#fff" stroke="#333" stroke-width="1.15"/>
<text x="0" y="409.70000000000005" transform="translate(533.4,0) scale(0.82,1)" text-anchor="middle" font-size="9.5" fill="#333" stroke="#333" stroke-width="0.2">12</text>
<circle cx="555" cy="418.6" r="9.7" fill="#fff" stroke="#333" stroke-width="1.15"/>
<text x="0" y="422.20000000000005" transform="translate(555,0) scale(0.82,1)" text-anchor="middle" font-size="9.5" fill="#333" stroke="#333" stroke-width="0.2">13</text>
<circle cx="577" cy="431.8" r="9.7" fill="#fff" stroke="#333" stroke-width="1.15"/>
<text x="0" y="435.40000000000003" transform="translate(577,0) scale(0.82,1)" text-anchor="middle" font-size="9.5" fill="#333" stroke="#333" stroke-width="0.2">14</text>
<circle cx="602.5" cy="445.9" r="9.7" fill="#fff" stroke="#333" stroke-width="1.15"/>
<text x="0" y="449.5" transform="translate(602.5,0) scale(0.82,1)" text-anchor="middle" font-size="9.5" fill="#333" stroke="#333" stroke-width="0.2">15</text>
<circle cx="624.3" cy="458.4" r="9.7" fill="#fff" stroke="#333" stroke-width="1.15"/>
<text x="0" y="462.0" transform="translate(624.3,0) scale(0.82,1)" text-anchor="middle" font-size="9.5" fill="#333" stroke="#333" stroke-width="0.2">16</text>
<circle cx="645.7" cy="470.9" r="9.7" fill="#fff" stroke="#333" stroke-width="1.15"/>
<text x="0" y="474.5" transform="translate(645.7,0) scale(0.82,1)" text-anchor="middle" font-size="9.5" fill="#333" stroke="#333" stroke-width="0.2">17</text>
<circle cx="666.4" cy="482.7" r="9.7" fill="#fff" stroke="#333" stroke-width="1.15"/>
<text x="0" y="486.3" transform="translate(666.4,0) scale(0.82,1)" text-anchor="middle" font-size="9.5" fill="#333" stroke="#333" stroke-width="0.2">18</text>
<circle cx="338.2" cy="374" r="9.7" fill="#fff" stroke="#333" stroke-width="1.15"/>
<text x="0" y="377.6" transform="translate(338.2,0) scale(0.82,1)" text-anchor="middle" font-size="9.5" fill="#333" stroke="#333" stroke-width="0.2">19</text>
<circle cx="338.2" cy="416.7" r="9.7" fill="#fff" stroke="#333" stroke-width="1.15"/>
<text x="0" y="420.3" transform="translate(338.2,0) scale(0.82,1)" text-anchor="middle" font-size="9.5" fill="#333" stroke="#333" stroke-width="0.2">20</text>
<circle cx="338.2" cy="455.2" r="9.7" fill="#fff" stroke="#333" stroke-width="1.15"/>
<text x="0" y="458.8" transform="translate(338.2,0) scale(0.82,1)" text-anchor="middle" font-size="9.5" fill="#333" stroke="#333" stroke-width="0.2">21</text>
<circle cx="338.2" cy="482.4" r="9.7" fill="#fff" stroke="#333" stroke-width="1.15"/>
<text x="0" y="486.0" transform="translate(338.2,0) scale(0.82,1)" text-anchor="middle" font-size="9.5" fill="#333" stroke="#333" stroke-width="0.2">22</text>
<circle cx="254.9" cy="307.2" r="9.7" fill="#fff" stroke="#333" stroke-width="1.15"/>
<text x="0" y="310.8" transform="translate(254.9,0) scale(0.82,1)" text-anchor="middle" font-size="9.5" fill="#333" stroke="#333" stroke-width="0.2">23</text>
<circle cx="96.4" cy="315.8" r="9.7" fill="#fff" stroke="#333" stroke-width="1.15"/>
<text x="0" y="319.40000000000003" transform="translate(96.4,0) scale(0.82,1)" text-anchor="middle" font-size="9.5" fill="#333" stroke="#333" stroke-width="0.2">24</text>
<line x1="347.2" y1="370.5" x2="407.9" y2="346.7" stroke="#3a3a3a" stroke-width="1"/>
<line x1="347.8" y1="415.1" x2="403.5" y2="405.9" stroke="#3a3a3a" stroke-width="1"/>
<line x1="347.9" y1="454.6" x2="437.6" y2="472.7" stroke="#3a3a3a" stroke-width="1" />
<line x1="347.8" y1="484.0" x2="427" y2="497.6" stroke="#3a3a3a" stroke-width="1"/>
<line x1="247.5" y1="300.9" x2="238.4" y2="293" stroke="#3a3a3a" stroke-width="1"/>
<line x1="104.4" y1="321.2" x2="138.2" y2="344" stroke="#3a3a3a" stroke-width="1"/>
<line x1="531.7" y1="250.4" x2="521" y2="248.3" stroke="#3a3a3a" stroke-width="1"/>
<line x1="550.7" y1="273.3" x2="597.2" y2="263.7" stroke="#3a3a3a" stroke-width="1"/>
<line x1="534.5" y1="396.5" x2="540.2" y2="346.5" stroke="#3a3a3a" stroke-width="1"/>
<line x1="554.2" y1="408.9" x2="548.4" y2="342" stroke="#3a3a3a" stroke-width="1"/>
<line x1="574.5" y1="422.4" x2="552.8" y2="339.2" stroke="#3a3a3a" stroke-width="1"/>
<line x1="600.6" y1="436.4" x2="586.2" y2="363.6" stroke="#3a3a3a" stroke-width="1"/>
<line x1="626.4" y1="448.9" x2="641.3" y2="382.2" stroke="#3a3a3a" stroke-width="1"/>
<line x1="645.9" y1="461.2" x2="647.5" y2="376.5" stroke="#3a3a3a" stroke-width="1"/>
<line x1="665.9" y1="473.0" x2="659" y2="348.3" stroke="#3a3a3a" stroke-width="1"/>
<line x1="666.7" y1="26.3" x2="577" y2="66.2" stroke="#3a3a3a" stroke-width="1"/>
<line x1="666.2" y1="48.3" x2="601.3" y2="63.4" stroke="#3a3a3a" stroke-width="1"/>
<line x1="665.9" y1="68.7" x2="601.3" y2="69.7" stroke="#3a3a3a" stroke-width="1"/>
<line x1="577.7" y1="86.0" x2="597.5" y2="92.4" stroke="#3a3a3a" stroke-width="1"/>
<line x1="578.2" y1="106.0" x2="595" y2="107.5" stroke="#3a3a3a" stroke-width="1"/>
<line x1="577.8" y1="124.2" x2="594" y2="119.6" stroke="#3a3a3a" stroke-width="1"/>
<line x1="576.9" y1="143.1" x2="597.8" y2="131" stroke="#3a3a3a" stroke-width="1"/>
<line x1="533.4" y1="121.0" x2="549" y2="117.4" stroke="#3a3a3a" stroke-width="1"/>
<line x1="625.1" y1="141.7" x2="618.7" y2="154.4" stroke="#3a3a3a" stroke-width="1"/>
</svg></body></html>
